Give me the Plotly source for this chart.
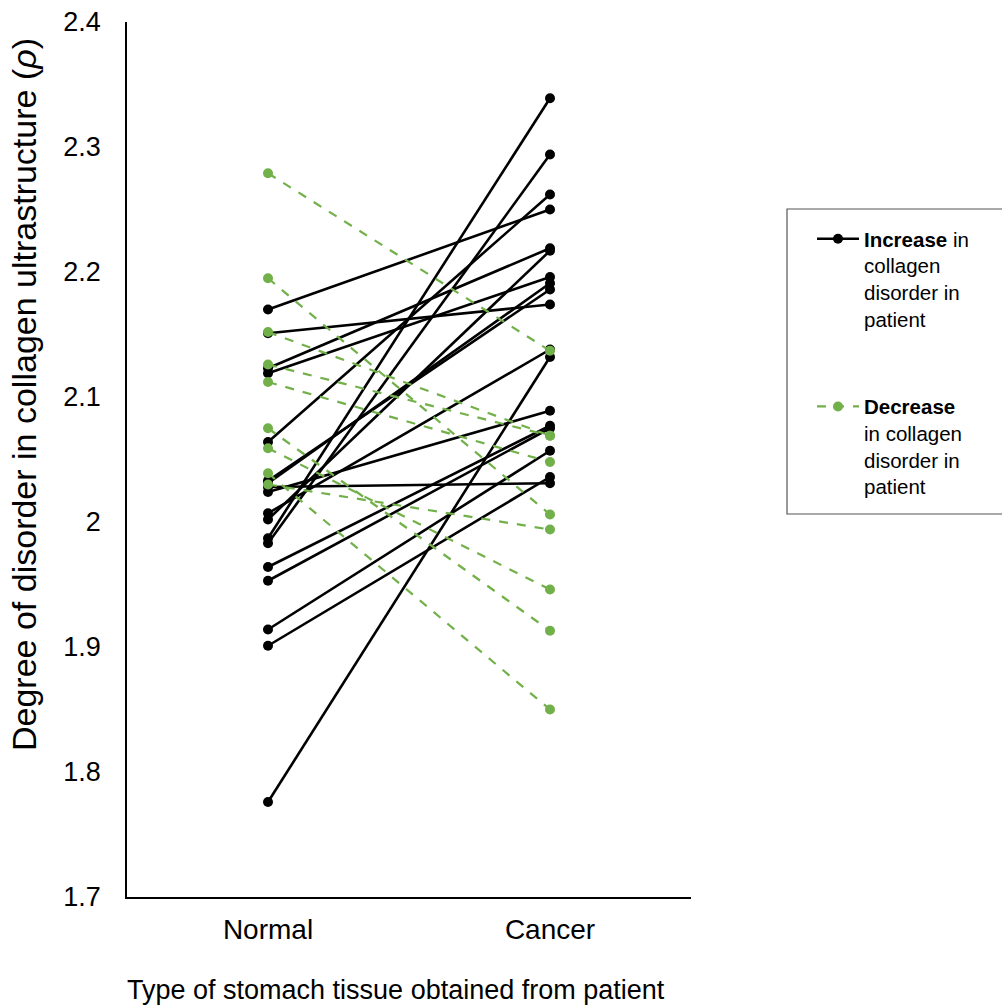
import plotly.graph_objects as go

categories = ["Normal", "Cancer"]

# Patients whose collagen disorder increased (Normal -> Cancer)
inc_normal = [2.170, 2.151, 2.123, 2.119, 2.064, 2.033, 2.031, 2.028, 2.024,
              2.007, 2.002, 1.987, 1.983, 1.964, 1.953, 1.914, 1.901, 1.776]
inc_cancer = [2.250, 2.174, 2.219, 2.196, 2.262, 2.186, 2.191, 2.031, 2.089,
              2.138, 2.217, 2.339, 2.294, 2.077, 2.075, 2.057, 2.036, 2.132]

# Patients whose collagen disorder decreased
dec_normal = [2.279, 2.195, 2.152, 2.126, 2.112, 2.075, 2.059, 2.039, 2.030]
dec_cancer = [2.137, 2.006, 2.069, 2.069, 2.048, 1.913, 1.946, 1.850, 1.994]

y_ticks = [1.7, 1.8, 1.9, 2.0, 2.1, 2.2, 2.3, 2.4]
y_ticktext = ["1.7", "1.8", "1.9", "2", "2.1", "2.2", "2.3", "2.4"]


def paired(a, b):
    xs, ys = [], []
    for n, c in zip(a, b):
        xs += [categories[0], categories[1], None]
        ys += [n, c, None]
    return xs, ys


GREEN = "#72B04A"
FONT = "Liberation Sans, Arial, sans-serif"

L, R, T, B = 127, 311, 22, 108
PW, PH = 1002 - L - R, 1005 - T - B


def px_x(p):
    return (p - L) / PW


def px_y(p):
    return (1005 - B - p) / PH


fig = go.Figure()
xd, yd = paired(dec_normal, dec_cancer)
xi, yi = paired(inc_normal, inc_cancer)

fig.add_trace(go.Scatter(
    x=xi, y=yi, mode="lines+markers",
    line=dict(color="black", width=2.6),
    marker=dict(color="black", size=10),
    name="<b>Increase</b> in<br>collagen<br>disorder in<br>patient",
    legendgroup="inc", connectgaps=False,
))
fig.add_trace(go.Scatter(
    x=xd, y=yd, mode="lines+markers",
    line=dict(color=GREEN, width=2.2, dash="dash"),
    marker=dict(color=GREEN, size=10),
    name="<b>Decrease</b><br>in collagen<br>disorder in<br>patient",
    legendgroup="dec", connectgaps=False,
))

fig.update_layout(
    width=1002, height=1005,
    margin=dict(l=L, r=R, t=T, b=B, autoexpand=False),
    paper_bgcolor="white", plot_bgcolor="white",
    font=dict(family=FONT, color="black"),
    showlegend=True,
    legend=dict(
        x=px_x(812), y=px_y(219), xanchor="left", yanchor="top",
        valign="top", font=dict(size=20.5, family=FONT),
        itemwidth=42, tracegroupgap=58,
        bgcolor="rgba(0,0,0,0)", borderwidth=0,
    ),
    shapes=[dict(type="rect", xref="paper", yref="paper",
                 x0=px_x(787), x1=px_x(1012),
                 y0=px_y(514), y1=px_y(209),
                 line=dict(color="#555555", width=1.2),
                 fillcolor="rgba(0,0,0,0)")],
    annotations=[
        dict(text="Degree of disorder in collagen ultrastructure (<i>ρ</i>)",
             xref="paper", yref="paper", x=px_x(24), y=px_y(395),
             xanchor="center", yanchor="middle", textangle=-90,
             showarrow=False, font=dict(size=34, family=FONT)),
        dict(text="Type of stomach tissue obtained from patient",
             xref="paper", yref="paper", x=px_x(396), y=px_y(990),
             xanchor="center", yanchor="middle",
             showarrow=False, font=dict(size=27, family=FONT)),
    ],
)

fig.update_xaxes(
    type="category", categoryorder="array", categoryarray=categories,
    range=[-0.5, 1.5], showline=True, linecolor="black", linewidth=1.5,
    showgrid=False, zeroline=False, ticks="", automargin=False,
    tickfont=dict(size=28, family=FONT), ticklabelstandoff=7,
)
fig.update_yaxes(
    range=[1.7, 2.4], showline=True, linecolor="black", linewidth=1.5,
    showgrid=False, zeroline=False, ticks="", automargin=False,
    tickvals=y_ticks, ticktext=y_ticktext,
    tickfont=dict(size=27, family=FONT), ticklabelstandoff=19,
)

fig.write_html("out.html")
